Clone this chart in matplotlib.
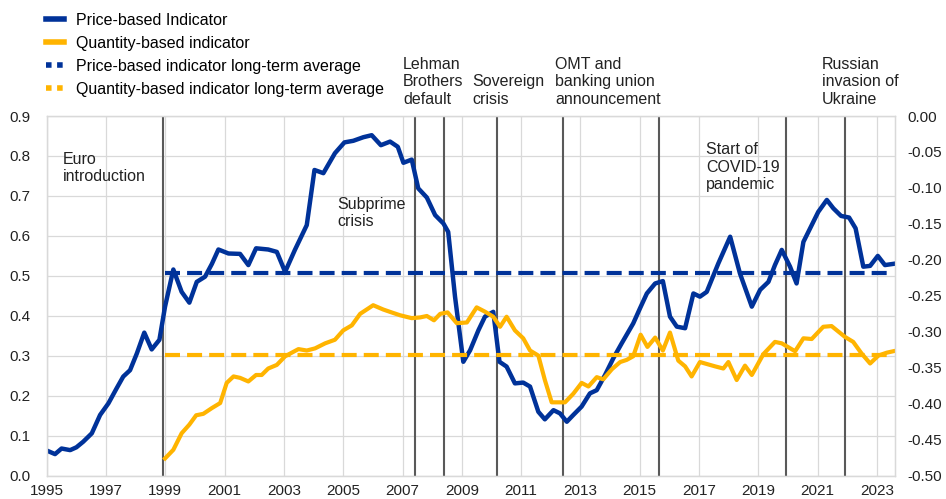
import matplotlib
matplotlib.use("Agg")
import matplotlib.pyplot as plt
from matplotlib.lines import Line2D

plt.rcParams['font.family'] = ['Liberation Sans', 'DejaVu Sans']

# Price-based indicator (left axis)
price_years = [1995.00, 1995.28, 1995.50, 1995.79, 1996.00, 1996.23, 1996.52, 1996.80,
               1997.08, 1997.36, 1997.58, 1997.81, 1998.04, 1998.29, 1998.54, 1998.80,
               1998.99, 1999.27, 1999.55, 1999.81, 2000.06, 2000.34, 2000.57, 2000.79,
               2001.13, 2001.52, 2001.80, 2002.06, 2002.47, 2002.76, 2003.04, 2003.37,
               2003.77, 2004.03, 2004.33, 2004.72, 2005.04, 2005.34, 2005.68, 2005.96,
               2006.27, 2006.58, 2006.84, 2007.03, 2007.31, 2007.53, 2007.82, 2008.10,
               2008.38, 2008.54, 2008.77, 2009.05, 2009.28, 2009.56, 2009.78, 2010.06,
               2010.27, 2010.51, 2010.79, 2011.07, 2011.30, 2011.58, 2011.80, 2012.09,
               2012.31, 2012.54, 2012.76, 2013.04, 2013.32, 2013.55, 2013.83, 2014.11,
               2014.39, 2014.78, 2015.01, 2015.24, 2015.52, 2015.78, 2016.02, 2016.25,
               2016.53, 2016.81, 2017.03, 2017.26, 2017.65, 2018.05, 2018.38, 2018.78,
               2019.06, 2019.34, 2019.56, 2019.79, 2020.07, 2020.29, 2020.52, 2020.80,
               2021.02, 2021.31, 2021.53, 2021.79, 2022.06, 2022.28, 2022.54, 2022.77,
               2023.03, 2023.27, 2023.55]
price_vals = [0.063, 0.054, 0.068, 0.064, 0.071, 0.085, 0.106, 0.152,
              0.181, 0.219, 0.248, 0.264, 0.306, 0.358, 0.316, 0.340,
              0.423, 0.516, 0.460, 0.433, 0.485, 0.498, 0.530, 0.566,
              0.556, 0.555, 0.527, 0.569, 0.566, 0.560, 0.510, 0.565,
              0.627, 0.765, 0.757, 0.807, 0.834, 0.838, 0.847, 0.852,
              0.827, 0.836, 0.823, 0.783, 0.791, 0.719, 0.696, 0.652,
              0.631, 0.610, 0.448, 0.285, 0.314, 0.364, 0.398, 0.410,
              0.285, 0.273, 0.231, 0.233, 0.223, 0.160, 0.141, 0.164,
              0.156, 0.135, 0.152, 0.173, 0.206, 0.214, 0.252, 0.294,
              0.331, 0.381, 0.419, 0.456, 0.481, 0.487, 0.398, 0.373,
              0.369, 0.456, 0.448, 0.460, 0.531, 0.598, 0.506, 0.423,
              0.465, 0.485, 0.527, 0.565, 0.523, 0.481, 0.585, 0.627,
              0.660, 0.690, 0.669, 0.650, 0.646, 0.619, 0.523, 0.525,
              0.550, 0.527, 0.530]

# Quantity-based indicator (right axis)
qty_years = [1998.99, 1999.27, 1999.55, 1999.81, 2000.04, 2000.28, 2000.57, 2000.85,
             2001.07, 2001.30, 2001.52, 2001.80, 2002.06, 2002.25, 2002.47, 2002.76,
             2003.04, 2003.49, 2003.77, 2004.05, 2004.39, 2004.72, 2005.00, 2005.29,
             2005.57, 2006.01, 2006.35, 2006.63, 2006.92, 2007.31, 2007.59, 2007.82,
             2008.06, 2008.27, 2008.52, 2008.83, 2009.17, 2009.50, 2009.78, 2010.06,
             2010.29, 2010.51, 2010.79, 2011.07, 2011.30, 2011.58, 2011.80, 2012.03,
             2012.48, 2012.76, 2013.04, 2013.27, 2013.55, 2013.77, 2014.06, 2014.34,
             2014.56, 2014.78, 2015.03, 2015.26, 2015.52, 2015.78, 2016.02, 2016.30,
             2016.53, 2016.75, 2017.03, 2017.54, 2017.82, 2017.99, 2018.27, 2018.55,
             2018.78, 2019.17, 2019.56, 2019.79, 2020.24, 2020.52, 2020.80, 2021.19,
             2021.47, 2021.92, 2022.20, 2022.48, 2022.77, 2023.05, 2023.33, 2023.55]
qty_vals = [-0.476, -0.464, -0.441, -0.429, -0.416, -0.414, -0.406, -0.399,
            -0.371, -0.362, -0.364, -0.369, -0.360, -0.360, -0.351, -0.346,
            -0.334, -0.324, -0.326, -0.323, -0.316, -0.311, -0.298, -0.291,
            -0.275, -0.263, -0.269, -0.273, -0.277, -0.281, -0.280, -0.278,
            -0.284, -0.275, -0.273, -0.288, -0.287, -0.266, -0.272, -0.279,
            -0.293, -0.279, -0.298, -0.309, -0.326, -0.333, -0.367, -0.398,
            -0.398, -0.386, -0.371, -0.376, -0.363, -0.366, -0.352, -0.342,
            -0.339, -0.334, -0.304, -0.321, -0.308, -0.326, -0.301, -0.340,
            -0.348, -0.362, -0.342, -0.348, -0.351, -0.342, -0.367, -0.347,
            -0.360, -0.331, -0.314, -0.316, -0.327, -0.309, -0.310, -0.293,
            -0.292, -0.307, -0.314, -0.330, -0.344, -0.333, -0.329, -0.327]

price_avg = 0.508
qty_avg = -0.332
avg_span = [1999.0, 2023.55]

event_years = [1998.91, 2007.42, 2008.41, 2010.18, 2012.42, 2015.66, 2019.92, 2021.93]

inner_labels = ["Euro\nintroduction", "Subprime\ncrisis", "Start of\nCOVID-19\npandemic"]
inner_x = [1995.55, 2004.79, 2017.23]
inner_y = [0.811, 0.698, 0.834]

top_labels = ["Lehman\nBrothers\ndefault", "Sovereign\ncrisis",
              "OMT and\nbanking union\nannouncement", "Russian\ninvasion of\nUkraine"]
top_x = [2007.02, 2009.34, 2012.14, 2021.15]

blue = "#003299"
yellow = "#FFB400"
grid_c = "#d9d9d9"

fig = plt.figure(figsize=(9.46, 4.99), dpi=100)
ax = fig.add_axes([0.0494, 0.0467, 0.8964, 0.7208])
ax2 = ax.twinx()

ax.set_xlim(1995, 2023.6)
ax.set_ylim(0, 0.9)
ax2.set_ylim(-0.5, 0.0)

ax.set_xticks(range(1995, 2024, 2))
ax.set_yticks([i / 10 for i in range(10)])
ax.set_yticklabels([f"{i / 10:.1f}" for i in range(10)])
ax2.set_yticks([-0.5 + i * 0.05 for i in range(11)])
ax2.set_yticklabels([f"{-0.5 + i * 0.05:.2f}" for i in range(11)])

ax.grid(True, color=grid_c, linewidth=0.9)
ax.set_axisbelow(True)
for a in (ax, ax2):
    for s in a.spines.values():
        s.set_color(grid_c)
        s.set_linewidth(0.9)
    a.tick_params(length=0, labelsize=11, colors="#222222")
ax.tick_params(axis="y", pad=12)
ax.tick_params(axis="x", pad=6)
ax2.tick_params(axis="y", pad=9)

for ev in event_years:
    ax.axvline(ev, color="#595959", linewidth=1.5, zorder=2)

ax.plot(price_years, price_vals, color=blue, linewidth=3.2, zorder=3)
ax.plot(avg_span, [price_avg, price_avg], color=blue, linewidth=3,
        dashes=(3.6, 1.7), zorder=3)
ax2.plot(qty_years, qty_vals, color=yellow, linewidth=3.0)
ax2.plot(avg_span, [qty_avg, qty_avg], color=yellow, linewidth=3, dashes=(3.6, 1.7))

for lab, x, y in zip(inner_labels, inner_x, inner_y):
    ax.text(x, y, lab, fontsize=11.5, va="top", ha="left", color="#222222",
            linespacing=1.2)

for lab, x in zip(top_labels, top_x):
    ax.text(x, 1.026, lab, fontsize=11.5, va="bottom", ha="left", color="#222222",
            transform=ax.get_xaxis_transform(), linespacing=1.2)

handles = [
    Line2D([], [], color=blue, linewidth=4),
    Line2D([], [], color=yellow, linewidth=4),
    Line2D([], [], color=blue, linewidth=4, linestyle=(0, (1, 1))),
    Line2D([], [], color=yellow, linewidth=4, linestyle=(0, (1, 1))),
]
names = ["Price-based Indicator", "Quantity-based indicator",
         "Price-based indicator long-term average",
         "Quantity-based indicator long-term average"]
fig.legend(handles, names, loc="upper left", bbox_to_anchor=(0.042, 0.987),
           frameon=False, fontsize=11.5, handlelength=1.15, handletextpad=0.75,
           labelspacing=0.5, borderaxespad=0.0)

fig.savefig("out.png", dpi=100)
